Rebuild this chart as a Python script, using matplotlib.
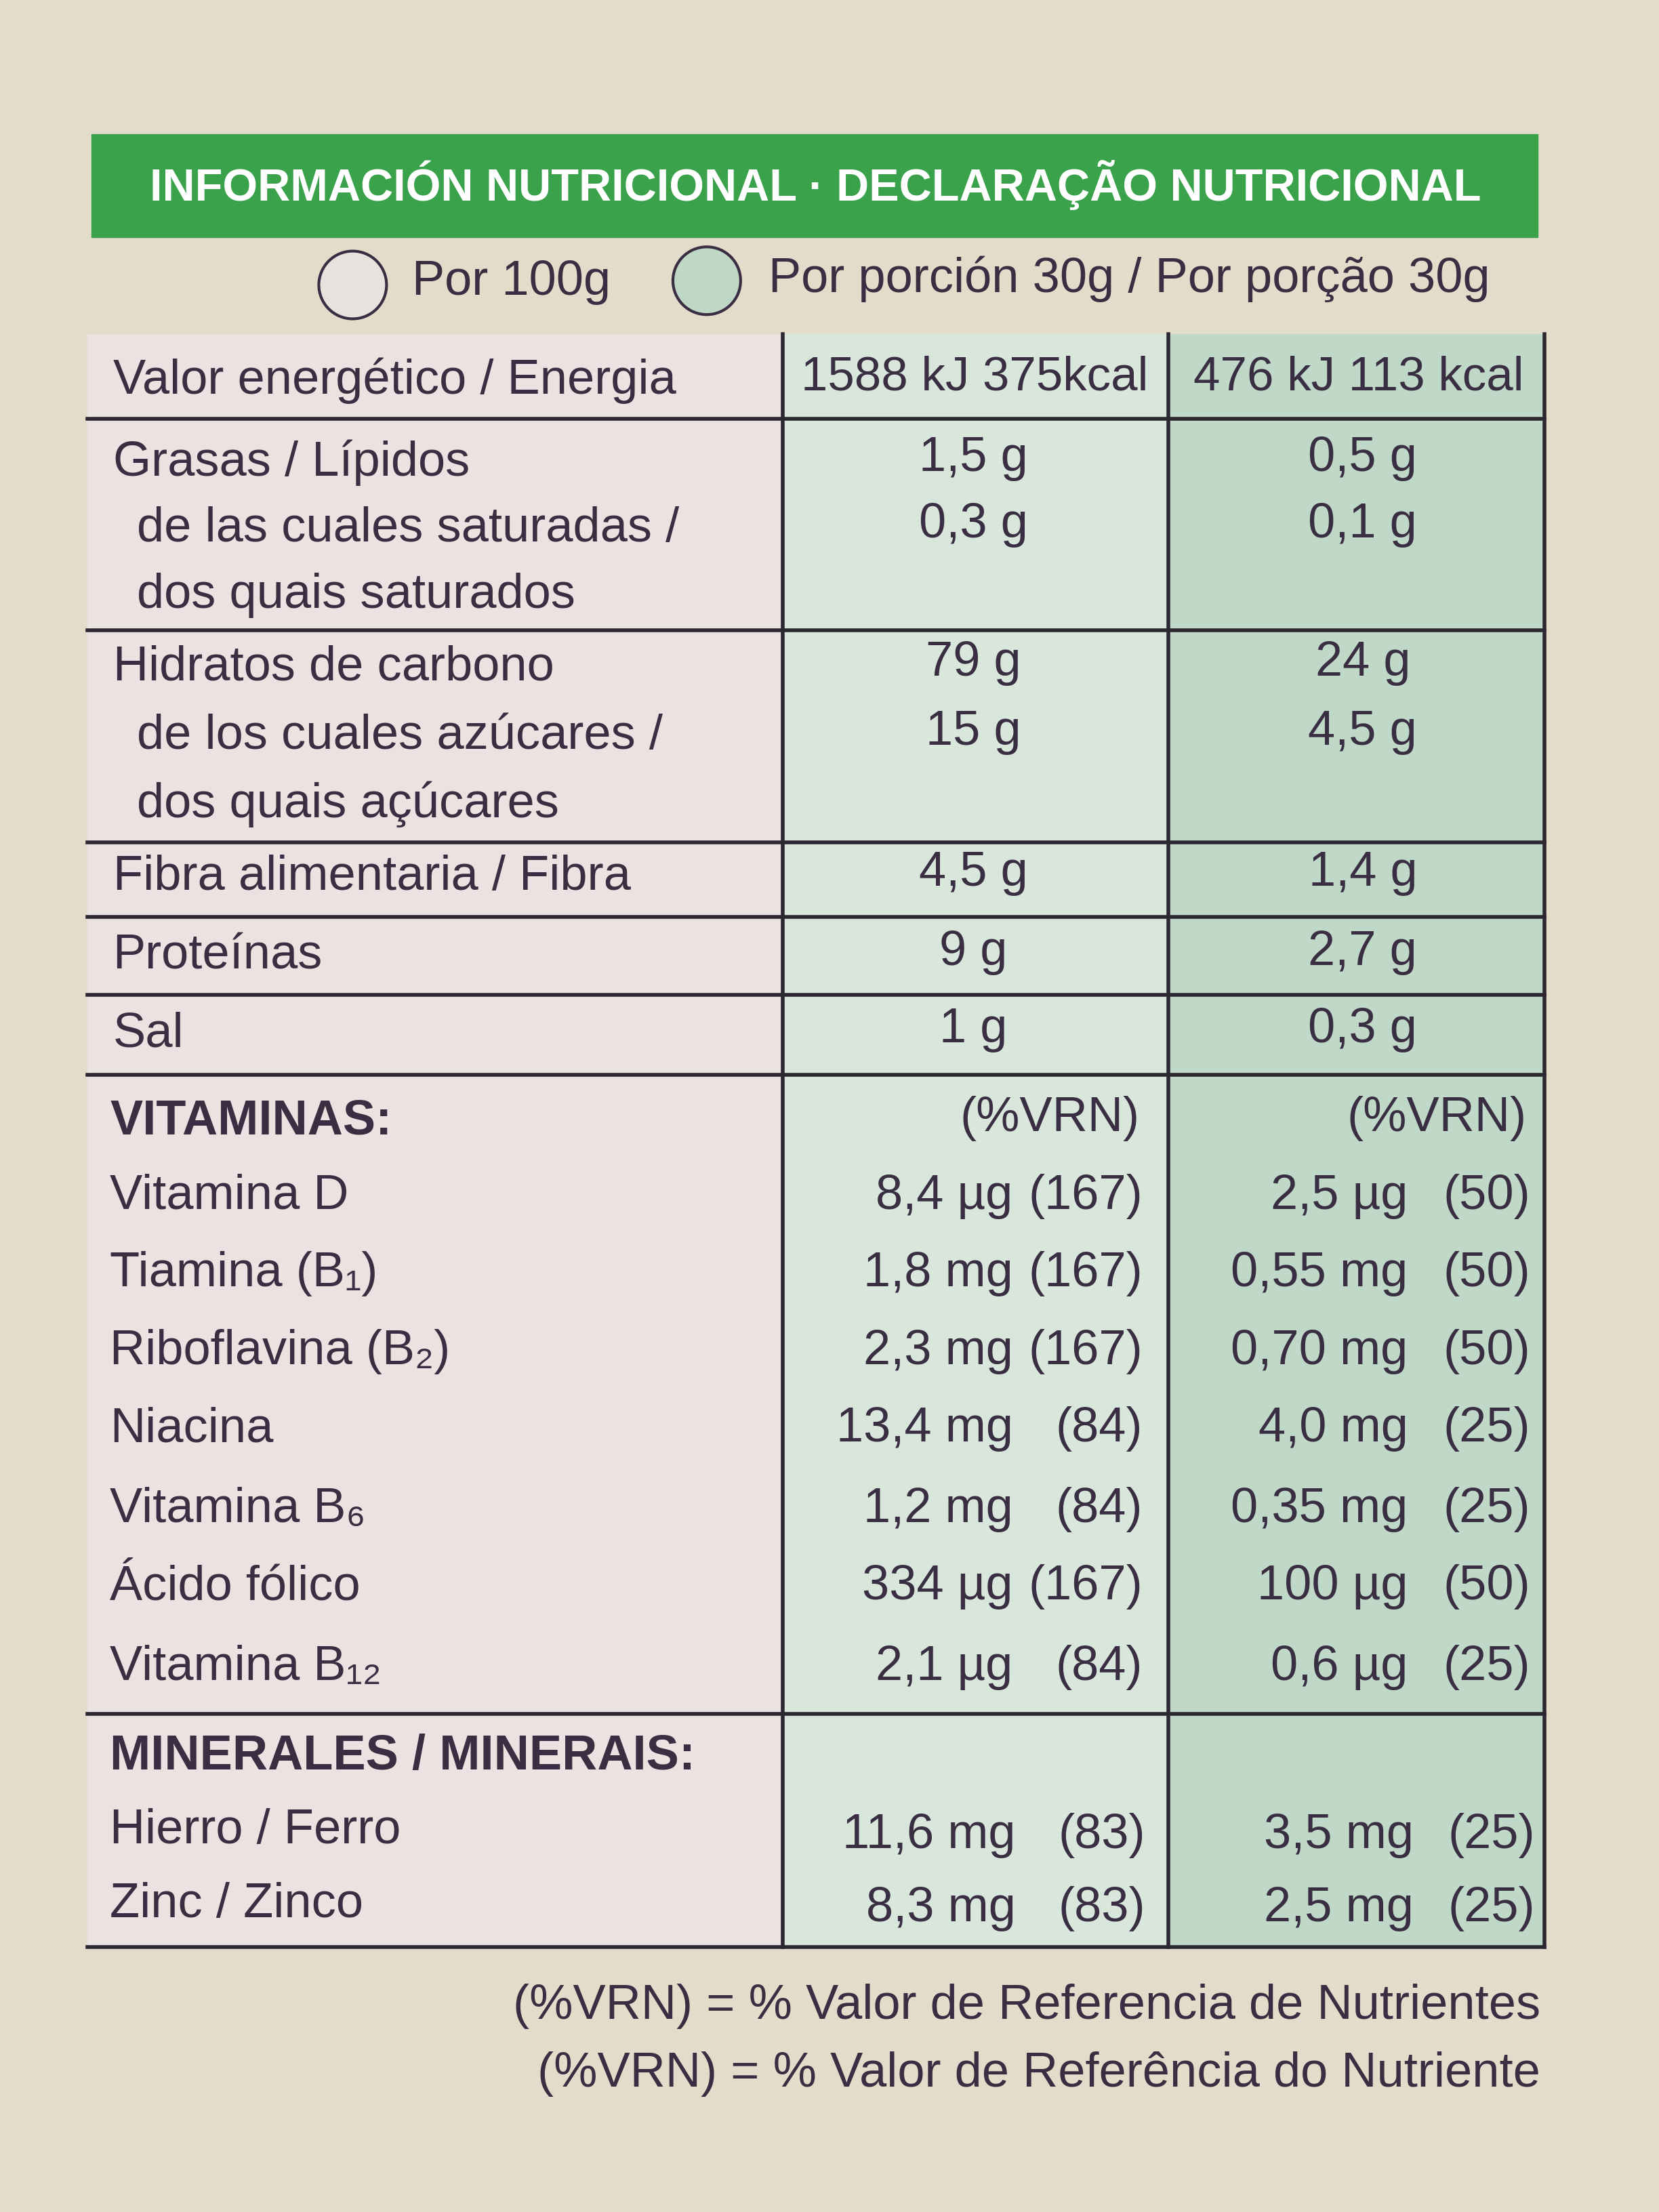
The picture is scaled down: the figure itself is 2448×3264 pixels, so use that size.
import matplotlib
matplotlib.use("Agg")
import matplotlib.pyplot as plt
from matplotlib.patches import Rectangle, Circle

title = "INFORMACIÓN NUTRICIONAL · DECLARAÇÃO NUTRICIONAL"
legend_labels = ["Por 100g", "Por porción 30g / Por porção 30g"]
energy = ["Valor energético / Energia", "1588 kJ 375kcal", "476 kJ 113 kcal"]
macro_labels = ["Grasas / Lípidos", "de las cuales saturadas /", "dos quais saturados",
                "Hidratos de carbono", "de los cuales azúcares /", "dos quais açúcares",
                "Fibra alimentaria / Fibra", "Proteínas", "Sal"]
macro_100 = ["1,5 g", "0,3 g", "", "79 g", "15 g", "", "4,5 g", "9 g", "1 g"]
macro_30 = ["0,5 g", "0,1 g", "", "24 g", "4,5 g", "", "1,4 g", "2,7 g", "0,3 g"]
vit_labels = ["Vitamina D", "Tiamina (B₁)", "Riboflavina (B₂)", "Niacina",
              "Vitamina B₆", "Ácido fólico", "Vitamina B₁₂"]
vit_100 = ["8,4 µg", "1,8 mg", "2,3 mg", "13,4 mg", "1,2 mg", "334 µg", "2,1 µg"]
vit_100_pct = ["(167)", "(167)", "(167)", "(84)", "(84)", "(167)", "(84)"]
vit_30 = ["2,5 µg", "0,55 mg", "0,70 mg", "4,0 mg", "0,35 mg", "100 µg", "0,6 µg"]
vit_30_pct = ["(50)", "(50)", "(50)", "(25)", "(25)", "(50)", "(25)"]
min_labels = ["Hierro / Ferro", "Zinc / Zinco"]
min_100 = ["11,6 mg", "8,3 mg"]
min_100_pct = ["(83)", "(83)"]
min_30 = ["3,5 mg", "2,5 mg"]
min_30_pct = ["(25)", "(25)"]
footer = ["(%VRN) = % Valor de Referencia de Nutrientes",
          "(%VRN) = % Valor de Referência do Nutriente"]

FAM = ["Liberation Sans", "DejaVu Sans"]
TXT = "#3a2f42"
FS = 52

fig = plt.figure(figsize=(24.48, 32.64), dpi=100)
fig.patch.set_facecolor("#e4dccb")
ax = fig.add_axes([0, 0, 1, 1])
ax.set_xlim(0, 1176); ax.set_ylim(1568, 0); ax.axis("off")

def t(x, y, s, ha="left", fs=FS, **kw):
    kw.setdefault("color", TXT)
    ax.text(x, y, s, ha=ha, va="center", fontsize=fs, family=FAM, **kw)

# header
ax.add_patch(Rectangle((65, 95), 1025, 73, color="#3ba24c", zorder=1))
t(578, 131, title, ha="center", fs=48, color="white", weight="bold")
ax.add_patch(Circle((250, 202), 24, facecolor="#e8e2de", edgecolor=TXT, lw=3))
ax.add_patch(Circle((501, 199), 24, facecolor="#bfd8c6", edgecolor=TXT, lw=3))
t(292, 200, legend_labels[0])
t(545, 198, legend_labels[1])

# table backgrounds
L, C1, C2, R, TOP, BOT = 62, 555, 828, 1095, 237, 1380
ax.add_patch(Rectangle((L, TOP), C1 - L, BOT - TOP, color="#ebe3e1"))
ax.add_patch(Rectangle((C1, TOP), C2 - C1, BOT - TOP, color="#d8e6dc"))
ax.add_patch(Rectangle((C2, TOP), R - C2, BOT - TOP, color="#bfd8c7"))
for y in [297, 447, 597, 650, 705, 762, 1215, BOT]:
    ax.plot([L, R], [y, y], color="#2c2832", lw=4)
for x in [C1, C2, R]:
    ax.plot([x, x], [TOP, BOT], color="#2c2832", lw=4)

t(80, 270, energy[0]); t(691, 268, energy[1], ha="center", fs=51); t(963, 268, energy[2], ha="center", fs=51)
ys = [328, 375, 422, 473, 522, 570, 622, 678, 733]
for i, y in enumerate(ys):
    x = 97 if macro_labels[i].startswith("d") else 80
    t(x, y, macro_labels[i])
    if macro_100[i]:
        t(690, y - 3, macro_100[i], ha="center")
        t(966, y - 3, macro_30[i], ha="center")

t(78, 795, "VITAMINAS:", weight="bold")
t(808, 793, "(%VRN)", ha="right"); t(1082, 793, "(%VRN)", ha="right")
vys = [848, 903, 958, 1013, 1070, 1125, 1182]
for i, y in enumerate(vys):
    t(78, y, vit_labels[i])
    t(718, y, vit_100[i], ha="right"); t(810, y, vit_100_pct[i], ha="right")
    t(998, y, vit_30[i], ha="right"); t(1085, y, vit_30_pct[i], ha="right")

t(78, 1245, "MINERALES / MINERAIS:", weight="bold")
for i, y in enumerate([1298, 1350]):
    t(78, y, min_labels[i])
    t(720, y + 3, min_100[i], ha="right"); t(812, y + 3, min_100_pct[i], ha="right")
    t(1002, y + 3, min_30[i], ha="right"); t(1088, y + 3, min_30_pct[i], ha="right")

t(1092, 1422, footer[0], ha="right")
t(1092, 1470, footer[1], ha="right")

fig.savefig("out.png", dpi=100, facecolor=fig.get_facecolor())
